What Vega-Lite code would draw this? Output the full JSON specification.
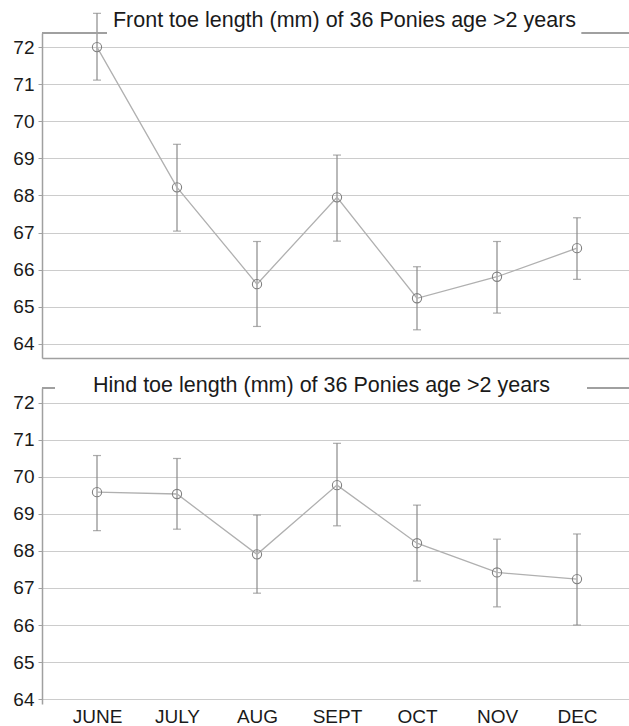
{
  "$schema": "https://vega.github.io/schema/vega-lite/v6.json",
  "padding": {"left": 12, "top": 10, "right": 0, "bottom": 0},
  "spacing": 30,
  "bounds": "flush",
  "datasets": {
    "front": [
      {"month": "JUNE", "idx": 0, "mean": 72.0, "lo": 71.11, "hi": 72.91},
      {"month": "JULY", "idx": 1, "mean": 68.22, "lo": 67.04, "hi": 69.38},
      {"month": "AUG", "idx": 2, "mean": 65.61, "lo": 64.47, "hi": 66.76},
      {"month": "SEPT", "idx": 3, "mean": 67.95, "lo": 66.77, "hi": 69.09},
      {"month": "OCT", "idx": 4, "mean": 65.23, "lo": 64.38, "hi": 66.08},
      {"month": "NOV", "idx": 5, "mean": 65.81, "lo": 64.83, "hi": 66.76},
      {"month": "DEC", "idx": 6, "mean": 66.58, "lo": 65.74, "hi": 67.4}
    ],
    "hind": [
      {"month": "JUNE", "idx": 0, "mean": 69.59, "lo": 68.55, "hi": 70.58},
      {"month": "JULY", "idx": 1, "mean": 69.54, "lo": 68.59, "hi": 70.5},
      {"month": "AUG", "idx": 2, "mean": 67.91, "lo": 66.86, "hi": 68.97},
      {"month": "SEPT", "idx": 3, "mean": 69.78, "lo": 68.68, "hi": 70.91},
      {"month": "OCT", "idx": 4, "mean": 68.21, "lo": 67.19, "hi": 69.24},
      {"month": "NOV", "idx": 5, "mean": 67.42, "lo": 66.49, "hi": 68.32},
      {"month": "DEC", "idx": 6, "mean": 67.24, "lo": 66.0, "hi": 68.46}
    ]
  },
  "config": {
    "view": {"stroke": null},
    "font": "Liberation Sans",
    "axis": {
      "labelFont": "Liberation Sans",
      "labelFontSize": 19,
      "labelColor": "#1a1a1a",
      "domainColor": "#a0a0a0",
      "domainWidth": 1.5,
      "tickColor": "#a0a0a0",
      "gridColor": "#cccccc",
      "gridWidth": 1,
      "title": null
    },
    "title": {"font": "Liberation Sans", "fontSize": 21.5, "fontWeight": "normal", "color": "#1a1a1a"}
  },
  "vconcat": [
    {
      "width": 587,
      "height": 325,
      "title": {"text": "Front toe length (mm) of 36 Ponies age >2 years", "anchor": "middle", "frame": "group", "dx": 9, "offset": -36, "baseline": "alphabetic"},
      "data": {"name": "front"},
      "encoding": {
        "x": {"field": "idx", "type": "quantitative", "scale": {"domain": [-0.6875, 6.65], "nice": false, "zero": false},
              "axis": {"values": [0, 1, 2, 3, 4, 5, 6], "labels": false, "ticks": false, "grid": false, "domain": true}},
        "y": {"field": "mean", "type": "quantitative", "scale": {"domain": [63.62, 72.38], "nice": false, "zero": false},
              "axis": {"values": [64, 65, 66, 67, 68, 69, 70, 71, 72], "grid": true, "tickSize": 4, "labelPadding": 4}}
      },
      "layer": [
        {"mark": {"type": "rule", "color": "#8a8a8a", "strokeWidth": 1.2}, "encoding": {"y": {"field": "lo", "type": "quantitative"}, "y2": {"field": "hi"}}},
        {"mark": {"type": "tick", "orient": "horizontal", "color": "#8a8a8a", "size": 8, "thickness": 1.2}, "encoding": {"y": {"field": "lo", "type": "quantitative"}}},
        {"mark": {"type": "tick", "orient": "horizontal", "color": "#8a8a8a", "size": 8, "thickness": 1.2}, "encoding": {"y": {"field": "hi", "type": "quantitative"}}},
        {"mark": {"type": "line", "color": "#b0b0b0", "strokeWidth": 1.3}},
        {"mark": {"type": "point", "shape": "circle", "filled": false, "stroke": "#808080", "strokeWidth": 1.1, "size": 85, "opacity": 1}},
        {"mark": {"type": "rule", "color": "#a0a0a0", "strokeWidth": 1.5}, "encoding": {"x": {"datum": -0.6875}, "x2": {"datum": 0.125}, "y": {"datum": 72.38}}},
        {"mark": {"type": "rule", "color": "#a0a0a0", "strokeWidth": 1.5}, "encoding": {"x": {"datum": 6.06}, "x2": {"datum": 6.65}, "y": {"datum": 72.38}}}
      ]
    },
    {
      "width": 587,
      "height": 316,
      "title": {"text": "Hind toe length (mm) of 36 Ponies age >2 years", "anchor": "middle", "frame": "group", "dx": -14, "offset": -26, "baseline": "alphabetic"},
      "data": {"name": "hind"},
      "encoding": {
        "x": {"field": "idx", "type": "quantitative", "scale": {"domain": [-0.6875, 6.65], "nice": false, "zero": false},
              "axis": {"values": [0, 1, 2, 3, 4, 5, 6], "labelExpr": "['JUNE','JULY','AUG','SEPT','OCT','NOV','DEC'][datum.value]", "ticks": false, "grid": false, "domain": false, "labelPadding": 3}},
        "y": {"field": "mean", "type": "quantitative", "scale": {"domain": [63.865, 72.405], "nice": false, "zero": false},
              "axis": {"values": [64, 65, 66, 67, 68, 69, 70, 71, 72], "grid": true, "tickSize": 4, "labelPadding": 4}}
      },
      "layer": [
        {"mark": {"type": "rule", "color": "#8a8a8a", "strokeWidth": 1.2}, "encoding": {"y": {"field": "lo", "type": "quantitative"}, "y2": {"field": "hi"}}},
        {"mark": {"type": "tick", "orient": "horizontal", "color": "#8a8a8a", "size": 8, "thickness": 1.2}, "encoding": {"y": {"field": "lo", "type": "quantitative"}}},
        {"mark": {"type": "tick", "orient": "horizontal", "color": "#8a8a8a", "size": 8, "thickness": 1.2}, "encoding": {"y": {"field": "hi", "type": "quantitative"}}},
        {"mark": {"type": "line", "color": "#b0b0b0", "strokeWidth": 1.3}},
        {"mark": {"type": "point", "shape": "circle", "filled": false, "stroke": "#808080", "strokeWidth": 1.1, "size": 85, "opacity": 1}},
        {"mark": {"type": "rule", "color": "#a0a0a0", "strokeWidth": 1.5}, "encoding": {"x": {"datum": -0.6875}, "x2": {"datum": -0.525}, "y": {"datum": 72.405}}},
        {"mark": {"type": "rule", "color": "#a0a0a0", "strokeWidth": 1.5}, "encoding": {"x": {"datum": 6.125}, "x2": {"datum": 6.65}, "y": {"datum": 72.405}}}
      ]
    }
  ]
}
